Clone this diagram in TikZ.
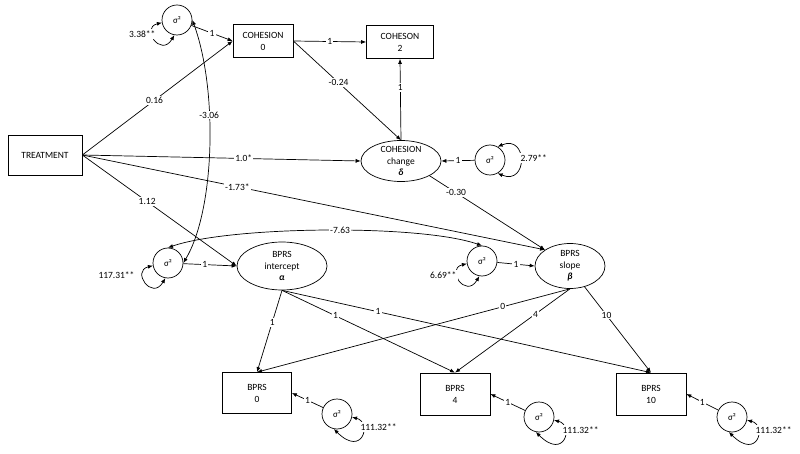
\documentclass[tikz,border=0pt]{standalone}
\usepackage{fontspec}
\setmainfont{Carlito}
\usetikzlibrary{arrows.meta,shapes.geometric,calc}
\newcommand\wsloop[4]{%
  \draw[<->] (#1.190) .. controls ($(#1)+(-37,8)$) and ($(#1)+(-16,38)$) .. (#1.260);
  \node[lbl,anchor=east] at ($(#1)+(#3,#4)$) {#2};}
\newcommand\esloop[2]{%
  \draw[<->] (#1.-12) .. controls ($(#1)+(35,8)$) and ($(#1)+(26,44)$) .. (#1.258);
  \node[lbl,anchor=west] at ($(#1)+(22,13)$) {#2};}
\begin{document}
\begin{tikzpicture}[x=1pt,y=-1pt,line width=0.7pt,
  >={Latex[length=5pt,width=4pt]},
  box/.style={draw, rectangle, inner sep=0pt, align=center, font=\fontsize{9.5}{12}\selectfont},
  lat/.style={draw, ellipse, inner sep=0pt},
  lattext/.style={align=center, inner sep=0pt, font=\fontsize{9.5}{11.5}\selectfont},
  var/.style={draw, circle, minimum size=30pt, inner sep=0pt, font=\fontsize{9}{10}\selectfont},
  lbl/.style={fill=white, inner sep=1.2pt, font=\fontsize{9.5}{10}\selectfont}]
\useasboundingbox (0,0) rectangle (800,454);

% observed boxes
\node[box, minimum width=74pt, minimum height=40pt] (treat) at (45,155) {TREATMENT};
\node[box, minimum width=60pt, minimum height=33pt] (coh0) at (263,41) {COHESION\\0};
\node[box, minimum width=67pt, minimum height=33pt] (coh2) at (400,42) {COHESON\\2};
\node[box, minimum width=69pt, minimum height=41pt] (b0) at (257,393) {BPRS\\0};
\node[box, minimum width=70pt, minimum height=42pt] (b4) at (455,394) {BPRS\\4};
\node[box, minimum width=70pt, minimum height=42pt] (b10) at (651,394) {BPRS\\10};

% latent ellipses
\node[lat, minimum width=80pt, minimum height=41pt] (cchg) at (401,161) {};
\node[lattext] (cchgt) at (cchg.center) {COHESION\\change\\\textbf{\textit{δ}}};
\node[lat, minimum width=90pt, minimum height=48pt] (int) at (282,266) {};
\node[lattext] (intt) at (int.center) {BPRS\\intercept\\\textbf{\textit{α}}};
\node[lat, minimum width=70pt, minimum height=45pt] (slope) at (570,266) {};
\node[lattext] (slopet) at (slope.center) {BPRS\\slope\\\textbf{\textit{β}}};

% variances
\node[var] (vc0) at (177,20) {σ²};
\node[var] (vchg) at (490,160) {σ²};
\node[var] (vi) at (168,263) {σ²};
\node[var] (vs) at (482,261) {σ²};
\node[var] (v0) at (337,414) {σ²};
\node[var] (v4) at (539,417) {σ²};
\node[var] (v10) at (732,417) {σ²};

% regression paths
\draw[->] (treat.east) -- node[lbl,pos=0.48]{0.16} (coh0.west);
\draw[->] (vc0) -- node[lbl]{1} (coh0.west);
\draw[->] (coh0.east) -- node[lbl]{1} (coh2.west);
\draw[->] (coh0.east) -- node[lbl,pos=0.42]{-0.24} (cchg.north);
\draw[->] (cchg.north) -- node[lbl,pos=0.65]{1} (coh2.south);
\draw[->] (vchg) -- node[lbl]{1} (cchg.east);
\draw[->] (treat.east) -- node[lbl,pos=0.58]{1.0*} (cchg.west);
\draw[->] (treat.east) -- node[lbl,pos=0.335]{-1.73*} (slope.north west);
\draw[->] (cchg.south east) -- node[lbl,pos=0.23]{-0.30} (slope.north west);
\draw[->] (treat.east) -- node[lbl,pos=0.42]{1.12} (int.west);
\draw[->] (vi) -- node[lbl,pos=0.4]{1} (int.west);
\draw[->] (vs) -- node[lbl]{1} (slope.west);
\draw[->] (int.south) -- node[lbl,pos=0.39]{1} (b0.north);
\draw[->] (int.south) -- node[lbl,pos=0.31]{1} (b4.north);
\draw[->] (int.south) -- node[lbl,pos=0.26]{1} (b10.north);
\draw[->] (slope.south) -- node[lbl,pos=0.215]{0} (b0.north);
\draw[->] (slope.south) -- node[lbl,pos=0.3]{4} (b4.north);
\draw[->] (slope.-55) -- node[lbl,pos=0.33]{10} (b10.north);
\draw[->] (v0) -- node[lbl]{1} (b0.east);
\draw[->] (v4) -- node[lbl]{1} (b4.east);
\draw[->] (v10) -- node[lbl]{1} (b10.east);

% covariances
\draw[<->] (vc0.east) .. controls (218,90) and (215,210) .. (vi.east) node[lbl,pos=0.38]{-3.06};
\draw[<->] (vi.north) .. controls (230,226) and (420,224) .. (vs.north) node[lbl,pos=0.54]{-7.63};

% variance loops
\wsloop{vc0}{3.38**}{-20}{14}
\wsloop{vi}{117.31**}{-32}{12}
\wsloop{vs}{6.69**}{-24}{14}
\esloop{v0}{111.32**}
\esloop{v4}{111.32**}
\esloop{v10}{111.32**}
\draw[<->] (vchg.60) .. controls ($(vchg)+(38,-26)$) and ($(vchg)+(38,26)$) .. (vchg.-60);
\node[lbl,anchor=west] at ($(vchg)+(29,-2)$) {2.79**};
\end{tikzpicture}
\end{document}
